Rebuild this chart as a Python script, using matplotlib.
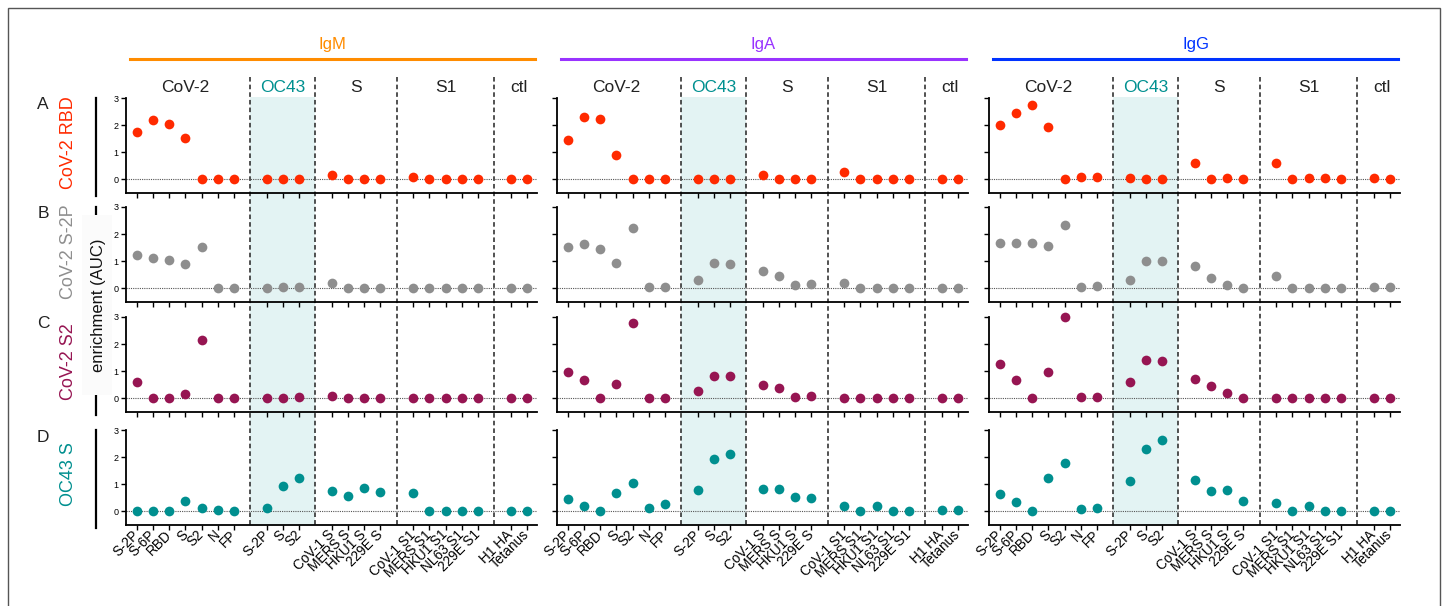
import matplotlib
matplotlib.use("Agg")
import matplotlib.pyplot as plt
from matplotlib.patches import Rectangle
from matplotlib.lines import Line2D
import matplotlib.transforms as mtransforms

plt.rcParams['font.family'] = ['Liberation Sans', 'DejaVu Sans']

# antigen groups and tick labels
groups = ['CoV-2', 'OC43', 'S', 'S1', 'ctl']
group_sizes = [7, 3, 4, 5, 2]
tick_labels = ['S-2P', 'S-6P', 'RBD', 'S', 'S2', 'N', 'FP',
               'S-2P', 'S', 'S2',
               'CoV-1 S', 'MERS S', 'HKU1 S', '229E S',
               'CoV-1 S1', 'MERS S1', 'HKU1 S1', 'NL63 S1', '229E S1',
               'H1 HA', 'Tetanus']

isotypes = ['IgM', 'IgA', 'IgG']
rows = ['CoV-2 RBD', 'CoV-2 S-2P', 'CoV-2 S2', 'OC43 S']
letters = ['A', 'B', 'C', 'D']

# enrichment (AUC) values, one list per isotype / depletion row
igm_rbd = [1.75, 2.18, 2.06, 1.54, 0, 0, 0, 0, 0.02, 0.02, 0.15, 0, 0, 0, 0.08, 0, 0, 0, 0, 0, 0]
igm_s2p = [1.24, 1.13, 1.05, 0.91, 1.54, 0.02, 0, 0, 0.04, 0.06, 0.20, 0, 0, 0, 0.02, 0, 0, 0, 0, 0, 0]
igm_s2 = [0.59, 0, 0, 0.16, 2.14, 0, 0, 0, 0.02, 0.04, 0.09, 0, 0, 0, 0, 0, 0, 0, 0, 0, 0]
igm_oc43 = [0, 0, 0, 0.38, 0.12, 0.06, 0, 0.12, 0.95, 1.22, 0.75, 0.58, 0.86, 0.72, 0.68, 0, 0, 0, 0, 0, 0]

iga_rbd = [1.46, 2.29, 2.21, 0.90, 0.03, 0.03, 0.03, 0, 0, 0, 0.17, 0, 0, 0, 0.26, 0, 0, 0, 0, 0, 0]
iga_s2p = [1.51, 1.62, 1.46, 0.95, 2.22, 0.06, 0.06, 0.30, 0.95, 0.91, 0.65, 0.46, 0.12, 0.15, 0.21, 0, 0.01, 0, 0.03, 0, 0.01]
iga_s2 = [0.98, 0.69, 0.01, 0.53, 2.79, 0.02, 0.02, 0.28, 0.84, 0.84, 0.48, 0.40, 0.06, 0.10, 0, 0, 0, 0, 0, 0, 0]
iga_oc43 = [0.44, 0.21, 0.01, 0.67, 1.04, 0.13, 0.29, 0.79, 1.93, 2.10, 0.83, 0.83, 0.55, 0.50, 0.20, 0.01, 0.21, 0.01, 0.01, 0.04, 0.06]

igg_rbd = [2.01, 2.43, 2.73, 1.93, 0, 0.09, 0.10, 0.04, 0, 0.01, 0.62, 0, 0.04, 0, 0.61, 0, 0.04, 0.04, 0.01, 0.04, 0.02]
igg_s2p = [1.69, 1.68, 1.69, 1.57, 2.33, 0.06, 0.09, 0.30, 1.01, 1.01, 0.82, 0.37, 0.14, 0, 0.45, 0, 0.02, 0.01, 0, 0.05, 0.05]
igg_s2 = [1.26, 0.68, 0, 0.98, 3.01, 0.06, 0.05, 0.60, 1.43, 1.38, 0.71, 0.45, 0.21, 0, 0, 0, 0.02, 0.02, 0, 0.02, 0.02]
igg_oc43 = [0.66, 0.36, 0, 1.25, 1.79, 0.09, 0.12, 1.12, 2.29, 2.63, 1.15, 0.76, 0.78, 0.40, 0.30, 0, 0.20, 0.01, 0.01, 0.02, 0.02]

data = [[igm_rbd, igm_s2p, igm_s2, igm_oc43],
        [iga_rbd, iga_s2p, iga_s2, iga_oc43],
        [igg_rbd, igg_s2p, igg_s2, igg_oc43]]

row_colors = ['#ff2a00', '#8e8e8e', '#961552', '#008f8f']
iso_colors = ['#ff8c00', '#9933ff', '#0033ff']
teal = '#009090'

# x positions: one empty slot between groups
xpos = []
seps = []
centers = []
start = 0
for n in group_sizes:
    xpos += list(range(start, start + n))
    centers.append(start + (n - 1) / 2)
    start += n
    seps.append(start)
    start += 1
seps = seps[:-1]

W, H = 1447, 606
fig = plt.figure(figsize=(W / 100, H / 100), dpi=100)


def fx(x):
    return x / W


def fy(y):
    return 1 - y / H


col_left = [126, 557, 989]
col_w = 411
row_top = [98, 207, 317, 430]
row_h = 95

axes = []
for c in range(3):
    col_axes = []
    for r in range(4):
        ax = fig.add_axes([fx(col_left[c]), fy(row_top[r] + row_h), col_w / W, row_h / H])
        ax.set_facecolor('none')
        ax.set_xlim(-0.66, 24.63)
        ax.set_ylim(-0.5, 3)
        ax.axhline(0, color='#555555', lw=0.8, ls=(0, (1, 1)), zorder=1)
        ax.plot(xpos, data[c][r], 'o', ms=7, color=row_colors[r], mec='none',
                clip_on=False, zorder=3)
        for sp in ['top', 'right']:
            ax.spines[sp].set_visible(False)
        for sp in ['left', 'bottom']:
            ax.spines[sp].set_linewidth(1.3)
        ax.set_yticks([0, 1, 2, 3])
        ax.set_xticks(xpos)
        ax.tick_params(axis='both', direction='out', length=3.5, width=1.0, pad=2)
        ax.tick_params(axis='y', labelsize=6.5)
        if c > 0:
            ax.set_yticklabels([])
        if r == 3:
            ax.set_xticklabels(tick_labels, rotation=45, ha='right', va='center',
                               rotation_mode='anchor', fontsize=9.8)
        else:
            ax.set_xticklabels([])
        col_axes.append(ax)
    axes.append(col_axes)

    # group separators, OC43 shading and group headers spanning all rows
    blend = mtransforms.blended_transform_factory(col_axes[0].transData, fig.transFigure)
    fig.add_artist(Rectangle((seps[0], fy(526)), seps[1] - seps[0], (526 - 97) / H,
                             transform=blend, facecolor='#e3f3f3', edgecolor='none', zorder=-2))
    for s in seps:
        fig.add_artist(Line2D([s, s], [fy(77), fy(526)], transform=blend, color='#222222',
                              lw=1.1, ls=(0, (3, 2)), zorder=-1))
    for g, cx in zip(groups, centers):
        fig.text(cx, fy(88), g, transform=blend, ha='center', va='center', fontsize=12.5,
                 color=teal if g == 'OC43' else '#222222')

    # isotype header with coloured bar
    x0 = col_left[c] + 4
    x1 = col_left[c] + col_w - 2
    fig.add_artist(Line2D([fx(x0), fx(x1)], [fy(59), fy(59)], color=iso_colors[c], lw=2.2))
    fig.text(fx((x0 + x1) / 2), fy(45), isotypes[c], ha='center', va='center',
             fontsize=12, color=iso_colors[c])

# row labels, letters and black bars on the left
for r in range(4):
    yc = row_top[r] + row_h / 2
    fig.text(fx(68.5), fy(yc - 3), rows[r], rotation=90, ha='center', va='center',
             fontsize=13, color=row_colors[r])
    fig.text(fx(43), fy(row_top[r] + 7), letters[r], ha='center', va='center',
             fontsize=12.5, color='#222222')
    fig.add_artist(Line2D([fx(96.5), fx(96.5)], [fy(row_top[r]), fy(row_top[r] + row_h + 3)],
                          color='black', lw=1.6, zorder=0.5))

fig.add_artist(Rectangle((fx(82), fy(395)), 30 / W, 180 / H, facecolor='#fbfbfb',
                         edgecolor='none', zorder=1))
fig.text(fx(99), fy(305), 'enrichment (AUC)', rotation=90, ha='center', va='center',
         fontsize=12, color='#111111', zorder=2)

# outer frame
fig.add_artist(Rectangle((fx(7.5), fy(620)), (1440 - 7.5) / W, (620 - 8) / H, fill=False,
                         edgecolor='#555555', lw=1.0))

fig.savefig('out.png', dpi=100)
